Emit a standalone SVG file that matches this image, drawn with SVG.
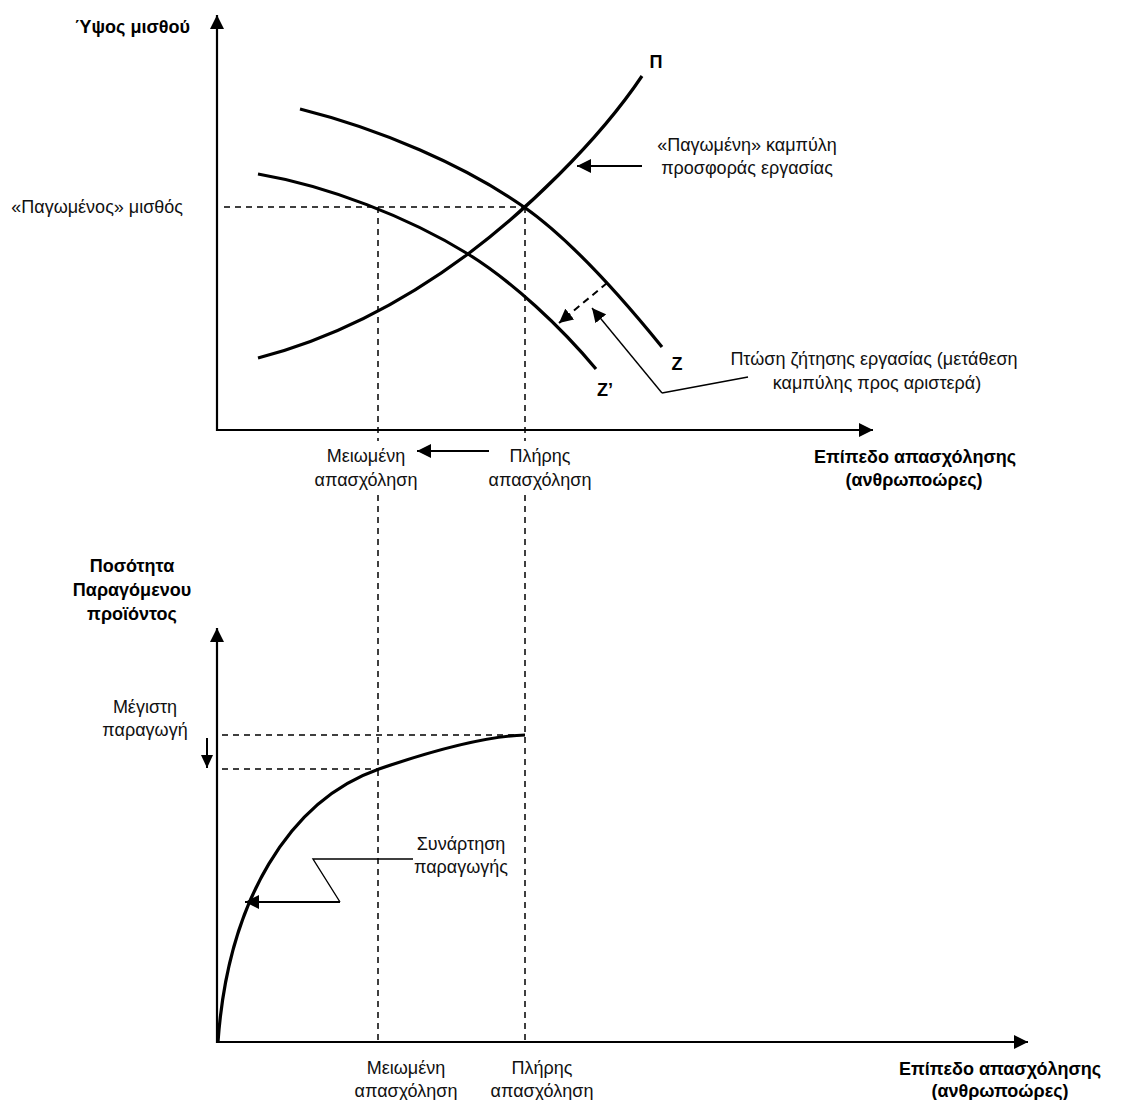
<svg xmlns="http://www.w3.org/2000/svg" width="1142" height="1100" viewBox="0 0 1142 1100">
<style>
text{font-family:"Liberation Sans",Arial,sans-serif;font-size:18px;fill:#111}
.b{font-weight:bold;fill:#000}
.m{text-anchor:middle}
.e{text-anchor:end}
.ax{stroke:#000;stroke-width:2.2;fill:none}
.crv{stroke:#000;stroke-width:3.2;fill:none}
.dash{stroke:#000;stroke-width:1.5;stroke-dasharray:6 5;fill:none}
.ptr{stroke:#000;stroke-width:2;fill:none}
.thin{stroke:#000;stroke-width:1.4;fill:none}
.dptr{stroke:#000;stroke-width:2;stroke-dasharray:7 5;fill:none}
</style>
<defs>
<marker id="ah" markerWidth="14" markerHeight="14" refX="14" refY="7" orient="auto" markerUnits="userSpaceOnUse"><path d="M0,0 L14,7 L0,14 z" fill="#000"/></marker>
<marker id="ahs" markerWidth="13" markerHeight="12" refX="13" refY="6" orient="auto" markerUnits="userSpaceOnUse"><path d="M0,0 L13,6 L0,12 z" fill="#000"/></marker>
</defs>
<rect width="1142" height="1100" fill="#fff"/>

<g id="guides">
<path class="dash" d="M224,207 H524"/>
<path class="dash" d="M378,207 V441 M378,495 V1042"/>
<path class="dash" d="M525,207 V441 M525,495 V1042"/>
<path class="dash" d="M222,735 H525"/>
<path class="dash" d="M222,769 H378"/>
</g>

<g id="axes">
<path class="ax" d="M217,431 V15" marker-end="url(#ah)"/>
<path class="ax" d="M216,430 H873" marker-end="url(#ah)"/>
<path class="ax" d="M217,1043 V628" marker-end="url(#ah)"/>
<path class="ax" d="M216,1042 H1028" marker-end="url(#ah)"/>
</g>

<g id="curve-Z">
<path class="crv" d="M300,109 C380,129 464,165 524,207 C574,242 632,310 662,347"/>
<text class="b m" x="677" y="370">Ζ</text>
</g>
<g id="curve-Z2">
<path class="crv" d="M258,174 C328,186 408,217 468,254 C513,282 561,327 596,369"/>
<text class="b m" x="605" y="396">Ζ’</text>
</g>
<g id="curve-P">
<path class="crv" d="M258,358 C328,340 398,306 468,254 C523,213 597,143 642,76"/>
<text class="b m" x="656" y="68">Π</text>
</g>
<g id="curve-production">
<path class="crv" d="M218,1042 C228,900 290,800 379,769 C440,748 490,736 525,735"/>
</g>

<g id="connectors">
<path class="ptr" d="M642,166 H577" marker-end="url(#ah)"/>
<path class="dptr" d="M607,283 L559,323" marker-end="url(#ah)"/>
<path class="thin" d="M748,377 L662,393"/>
<path class="thin" d="M662,393 L592,308" marker-end="url(#ah)"/>
<path class="ptr" d="M489,451 H417" marker-end="url(#ah)"/>
<path class="ptr" d="M207,738 V768" marker-end="url(#ahs)"/>
<path class="thin" d="M413,859 H313 L340,902"/>
<path class="ptr" d="M340,902 H245" marker-end="url(#ah)"/>
</g>

<g id="label-wage-axis"><text class="b e" x="190" y="33">Ύψος μισθού</text></g>
<g id="label-frozen-wage"><text class="e" x="183" y="213">«Παγωμένος» μισθός</text></g>
<g id="label-supply">
<text class="m" x="747" y="151">«Παγωμένη» καμπύλη</text>
<text class="m" x="747" y="174">προσφοράς εργασίας</text>
</g>
<g id="label-demand-fall">
<text class="m" x="874" y="365">Πτώση ζήτησης εργασίας (μετάθεση</text>
<text class="m" x="877" y="389">καμπύλης προς αριστερά)</text>
</g>
<g id="label-top-reduced">
<text class="m" x="366" y="462">Μειωμένη</text>
<text class="m" x="366" y="486">απασχόληση</text>
</g>
<g id="label-top-full">
<text class="m" x="540" y="462">Πλήρης</text>
<text class="m" x="540" y="486">απασχόληση</text>
</g>
<g id="label-top-xaxis">
<text class="b m" x="915" y="463">Επίπεδο απασχόλησης</text>
<text class="b m" x="914" y="486">(ανθρωποώρες)</text>
</g>
<g id="label-output-axis">
<text class="b m" x="132" y="572">Ποσότητα</text>
<text class="b m" x="132" y="596">Παραγόμενου</text>
<text class="b m" x="132" y="620">προϊόντος</text>
</g>
<g id="label-max">
<text class="m" x="145" y="713">Μέγιστη</text>
<text class="m" x="145" y="736">παραγωγή</text>
</g>
<g id="label-production">
<text class="m" x="461" y="850">Συνάρτηση</text>
<text class="m" x="461" y="873">παραγωγής</text>
</g>
<g id="label-bottom-reduced">
<text class="m" x="406" y="1074">Μειωμένη</text>
<text class="m" x="406" y="1097">απασχόληση</text>
</g>
<g id="label-bottom-full">
<text class="m" x="542" y="1074">Πλήρης</text>
<text class="m" x="542" y="1097">απασχόληση</text>
</g>
<g id="label-bottom-xaxis">
<text class="b m" x="1000" y="1075">Επίπεδο απασχόλησης</text>
<text class="b m" x="1000" y="1097">(ανθρωποώρες)</text>
</g>
</svg>
